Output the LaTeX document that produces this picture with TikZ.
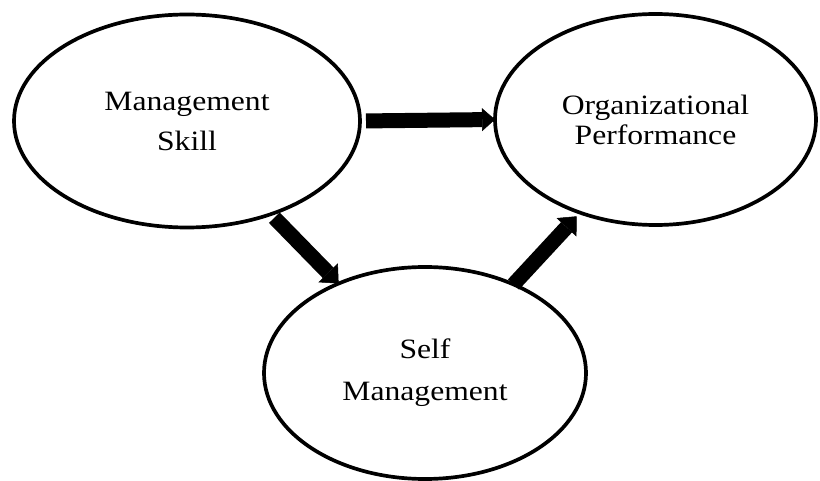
\documentclass[tikz,border=0pt]{standalone}
\usepackage{fontspec}
\setmainfont{Liberation Serif}[FakeStretch=1.13]
\usetikzlibrary{shapes.geometric,arrows.meta}
\begin{document}
\begin{tikzpicture}[x=1pt,y=-1pt,
  bubble/.style={ellipse, draw, line width=3.7pt, inner sep=0pt, outer sep=0pt, align=center},
  flow/.style={line width=15pt, -{Triangle[length=15pt,width=27pt,line width=0.5pt]}},
  flowh/.style={line width=15pt, -{Triangle[length=13pt,width=23pt,line width=0.5pt]}}]
\useasboundingbox[fill=white] (0,0) rectangle (820,481);
\node[bubble, minimum width=346pt, minimum height=213pt, font=\fontsize{28}{40}\selectfont] (ms) at (187,121) {Management\\Skill};
\node[bubble, minimum width=321pt, minimum height=211pt, font=\fontsize{28}{30}\selectfont] (op) at (655.5,119.5) {Organizational\\Performance};
\node[bubble, minimum width=322pt, minimum height=212pt, font=\fontsize{28}{42}\selectfont] (sm) at (425,373) {Self\\Management};
\draw[flowh, shorten <=6pt] (ms.east) -- (op.west);
\draw[flow, shorten <=5pt] (ms.312) -- (sm.134);
\draw[flow, shorten >=5pt] (sm.45) -- (op.231);
\end{tikzpicture}
\end{document}
